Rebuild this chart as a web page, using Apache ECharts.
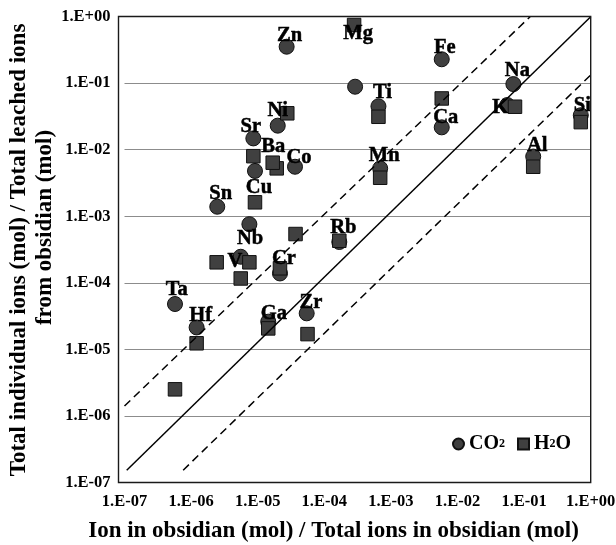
<!DOCTYPE html>
<html>
<head>
<meta charset="utf-8">
<script src="https://cdn.jsdelivr.net/npm/echarts@6/dist/echarts.min.js"></script>
<style>
  html, body { margin: 0; padding: 0; background: #fff; }
  #main { width: 616px; height: 545px; }
</style>
</head>
<body>
<div id="main"></div>
<script>
// element symbols
var elements = ['Na', 'K', 'Si', 'Al', 'Fe', 'Ca', 'Mg', 'Ti', 'Mn', 'Rb', 'Zn', 'Ni',
  'Co', 'Sr', 'Ba', 'Cu', 'Sn', 'Nb', 'V', 'Cr', 'Ga', 'Zr', 'Ta', 'Hf'];

// ion in obsidian / total ions in obsidian
var obsidianCO2 = [0.069, 0.056, 0.71, 0.137, 5.8e-3, 5.8e-3, 2.9e-4, 6.5e-4, 6.9e-4, 1.68e-4, 2.72e-5, 2.0e-5,
  3.63e-5, 8.6e-6, 1.68e-5, 9.1e-6, 2.47e-6, 7.5e-6, 5.56e-6, 2.16e-5, 1.44e-5, 5.44e-5, 5.73e-7, 1.21e-6];
var obsidianH2O = [0.069, 0.073, 0.71, 0.137, 5.8e-3, 5.8e-3, 2.8e-4, 6.5e-4, 6.9e-4, 1.68e-4, 2.78e-5, 1.93e-5,
  3.7e-5, 8.6e-6, 1.68e-5, 9.1e-6, 2.42e-6, 7.5e-6, 5.56e-6, 2.16e-5, 1.44e-5, 5.6e-5, 5.73e-7, 1.21e-6];

// total individual ions / total leached ions
var leachedCO2 = [0.097, 0.047, 0.033, 0.0079, 0.229, 0.0217, 0.0886, 0.045, 0.00525, 4.1e-4, 0.354, 0.023,
  0.00555, 0.0148, null, 0.0048, 0.00139, 7.6e-4, 2.46e-4, 1.38e-4, 2.6e-5, 3.47e-5, 4.79e-5, 2.13e-5];
var leachedH2O = [null, 0.0443, 0.026, 0.00555, 0.059, null, 0.75, 0.0313, 0.00379, 4.28e-4, 0.0353, 0.00525,
  5.4e-4, 0.0080, 0.00638, 0.00162, 2.03e-4, 2.03e-4, 1.16e-4, 1.65e-4, 2.06e-5, 1.69e-5, 2.5e-6, 1.23e-5];

var tickLabels = ['1.E-07', '1.E-06', '1.E-05', '1.E-04', '1.E-03', '1.E-02', '1.E-01', '1.E+00'];

// guide lines (end points)
var lineCenter = [[1.08e-7, 1.52e-7], [1, 1]];
var lineUpper = [[1.0e-7, 1.4e-6], [0.123, 1]];
var lineLower = [[7.6e-7, 1.52e-7], [1, 0.133]];

// label placement, px from the marker
var labelOffset = {
  Na: [4, -13], K: [-7, 3], Si: [1.5, -10], Al: [4, -11], Fe: [3, -12], Ca: [4, -10],
  Mg: [3, -53], Ti: [4, -13.5], Mn: [4, -12.5], Rb: [4, -14], Zn: [3, -11], Ni: [0, -14.5],
  Co: [4, -9], Sr: [-2.5, -12], Ba: [0.5, -16], Cu: [4, 17], Sn: [3.5, -13.5], Nb: [0.7, 14.3],
  V: [-5.7, 5.3], Cr: [4, -14.5], Ga: [5.7, -8], Zr: [4.3, -11], Ta: [1.7, -14.3], Hf: [4, -12]
};

var serif = '"Liberation Serif", "Times New Roman", serif';
var markFill = '#404040';

function pairs(xs, ys) {
  var out = [];
  for (var i = 0; i < xs.length; i++) {
    if (ys[i] != null) out.push([xs[i], ys[i]]);
  }
  return out;
}

var labelData = elements.map(function (el, i) {
  var useCO2 = leachedCO2[i] != null;
  return {
    name: el,
    value: useCO2 ? [obsidianCO2[i], leachedCO2[i]] : [obsidianH2O[i], leachedH2O[i]],
    label: { offset: labelOffset[el] }
  };
});

function tickFmt(v) {
  return tickLabels[Math.round(Math.log10(v)) + 7];
}

var myChart = echarts.init(document.getElementById('main'), null, { renderer: 'canvas' });

var option = {
  animation: false,
  backgroundColor: '#fff',
  grid: {
    left: 124.5, right: 25.3, top: 16.7, bottom: 62.7,
    outerBoundsMode: 'none'
  },
  xAxis: {
    type: 'log', logBase: 10, min: 1e-7, max: 1, splitNumber: 7,
    axisLine: { show: false }, axisTick: { show: false },
    splitLine: { show: false },
    axisLabel: {
      margin: 11, formatter: tickFmt, color: '#000',
      fontFamily: serif, fontWeight: 'bold', fontSize: 16.5
    }
  },
  yAxis: {
    type: 'log', logBase: 10, min: 1e-7, max: 1, splitNumber: 7,
    axisLine: { show: false }, axisTick: { show: false },
    splitLine: { show: true, lineStyle: { color: '#8c8c8c', width: 1 } },
    axisLabel: {
      margin: 14, formatter: tickFmt, color: '#000',
      fontFamily: serif, fontWeight: 'bold', fontSize: 16.5
    }
  },
  legend: {
    left: 447, top: 429,
    itemWidth: 11, itemHeight: 11, itemGap: 12,
    data: ['CO2', 'H2O'],
    formatter: function (n) {
      return n === 'CO2' ? '{t|CO}{s|2}' : '{t|H}{s|2}{t|O}';
    },
    textStyle: {
      rich: {
        t: { fontFamily: serif, fontWeight: 'bold', fontSize: 20, color: '#000' },
        s: { fontFamily: serif, fontWeight: 'bold', fontSize: 12, color: '#000' }
      }
    }
  },
  graphic: [
    {
      type: 'rect', z: 100, silent: true,
      shape: { x: 118.5, y: 16.5, width: 472.2, height: 466 },
      style: { fill: 'none', stroke: '#1a1a1a', lineWidth: 1.4 }
    },
    {
      type: 'text', silent: true,
      x: 333.5, y: 531.5,
      style: {
        text: 'Ion in obsidian (mol) / Total ions in obsidian (mol)',
        font: 'bold 23px ' + serif, fill: '#000',
        textAlign: 'center', textVerticalAlign: 'middle'
      }
    },
    {
      type: 'text', silent: true,
      x: 19.5, y: 250, rotation: Math.PI / 2,
      style: {
        text: 'Total individual ions (mol) / Total leached ions',
        font: 'bold 23px ' + serif, fill: '#000',
        textAlign: 'center', textVerticalAlign: 'middle'
      }
    },
    {
      type: 'text', silent: true,
      x: 45, y: 227.5, rotation: Math.PI / 2,
      style: {
        text: 'from obsidian (mol)',
        font: 'bold 23px ' + serif, fill: '#000',
        textAlign: 'center', textVerticalAlign: 'middle'
      }
    }
  ],
  series: [
    {
      name: 'CO2', type: 'scatter', symbol: 'circle', symbolSize: 15, z: 2,
      itemStyle: { color: markFill, borderColor: '#111', borderWidth: 1, opacity: 1 },
      data: pairs(obsidianCO2, leachedCO2)
    },
    {
      name: 'H2O', type: 'scatter', symbol: 'rect', symbolSize: 13.5, z: 3,
      itemStyle: { color: markFill, borderColor: '#111', borderWidth: 1, opacity: 1 },
      data: pairs(obsidianH2O, leachedH2O)
    },
    {
      type: 'line', z: 4, symbol: 'none', silent: true,
      lineStyle: { color: '#000', width: 1.5, type: 'solid' },
      data: lineCenter
    },
    {
      type: 'line', z: 4, symbol: 'none', silent: true,
      lineStyle: { color: '#000', width: 1.5, type: [8, 5] },
      data: lineUpper
    },
    {
      type: 'line', z: 4, symbol: 'none', silent: true,
      lineStyle: { color: '#000', width: 1.5, type: [8, 5] },
      data: lineLower
    },
    {
      type: 'scatter', z: 5, symbolSize: 1, silent: true,
      itemStyle: { color: '#000', opacity: 0 },
      emphasis: { disabled: true },
      label: {
        show: true, position: 'inside', formatter: '{b}', opacity: 1,
        fontFamily: serif, fontWeight: 'bold', fontSize: 20.5, color: '#000',
        textBorderWidth: 0.5, textBorderColor: '#000'
      },
      data: labelData
    }
  ]
};

myChart.setOption(option);
</script>
</body>
</html>
